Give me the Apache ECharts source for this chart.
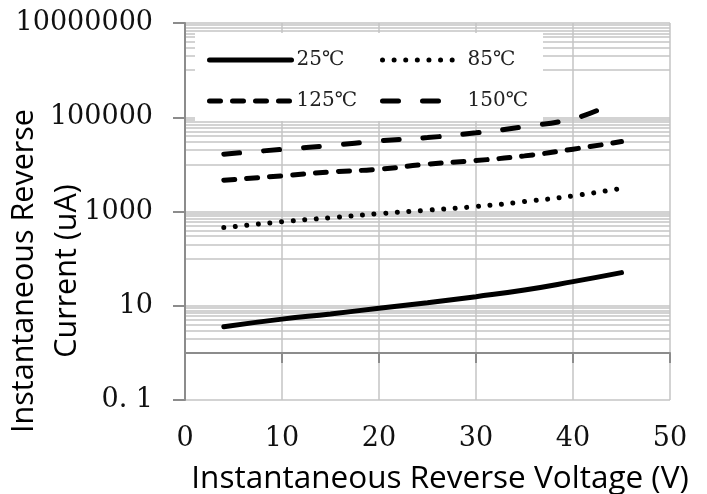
<!DOCTYPE html>
<html>
<head>
<meta charset="utf-8">
<script src="https://cdn.jsdelivr.net/npm/echarts@6/dist/echarts.min.js"></script>
<style>
html,body{margin:0;padding:0;background:#fff;}
#chart{width:707px;height:494px;}
</style>
</head>
<body>
<div id="chart"></div>
<script>
// ---- data ----
const voltage = [4, 10, 15, 20, 25, 30, 35, 40, 45];
const current25 = [3.6, 5.2, 6.7, 8.85, 11.6, 15.6, 21.6, 32.5, 50.5];
const current85 = [455, 605, 738, 900, 1066, 1273, 1622, 2143, 3100];
const current125 = [4620, 5700, 6900, 7910, 10100, 12050, 15150, 21000, 30500];
const voltage150 = [4, 10, 15, 20, 25, 30, 35, 40, 43];
const current150 = [16480, 20800, 25100, 31550, 37000, 46700, 63300, 93000, 155000];

const seriesNames = ['25℃', '85℃', '125℃', '150℃'];
const yTickValues = [0.1, 10, 1000, 100000, 10000000];
const yTickLabels = ['0. 1', '10', '1000', '100000', '10000000'];
const decadeLines = [0.1, 1, 10, 100, 1000, 10000, 100000, 1000000, 10000000];
const minorDecades = [1, 100, 10000, 1000000];
const minorSteps = [2, 3, 4, 5, 6, 7, 8, 9];

const yMin = 0.1, yMax = 10000000;
const gridLines = decadeLines.slice();
minorDecades.forEach(d => minorSteps.forEach(k => gridLines.push(d * k)));

const chart = echarts.init(document.getElementById('chart'), null, {renderer: 'canvas'});

const gridTop = 23, gridBottom = 94, gridLeft = 185, gridRight = 37;
const plotH = 494 - gridTop - gridBottom;
const decadeCount = Math.log10(yMax) - Math.log10(yMin);
const crossOffset = -plotH * (Math.log10(1) - Math.log10(yMin)) / decadeCount;

const gridColor = '#c4c4c4';
const axisColor = '#8c8c8c';
const serifFont = 'DejaVu Serif';
const sansFont = 'Open Sans';

function pairs(xs, ys) { return xs.map((x, i) => [x, ys[i]]); }
function labelFor(v) {
  for (let i = 0; i < yTickValues.length; i++) {
    if (Math.abs(Math.log10(v) - Math.log10(yTickValues[i])) < 1e-6) return yTickLabels[i];
  }
  return '';
}

const lineBase = {type: 'line', showSymbol: false, symbol: 'none', smooth: true, clip: false, z: 3};

const option = {
  animation: false,
  backgroundColor: '#fff',
  grid: {left: gridLeft, right: gridRight, top: gridTop, bottom: gridBottom, containLabel: false, outerBoundsMode: 'none'},
  graphic: [
    {type: 'rect', z: 1, shape: {x: 195, y: 33, width: 348, height: 88}, style: {fill: '#fff'}},
    {type: 'text', z: 5, x: 46, y: 271, rotation: Math.PI / 2,
     style: {text: 'Instantaneous Reverse\nCurrent (uA)', font: '30.5px ' + sansFont, fill: '#000',
             align: 'center', verticalAlign: 'middle', lineHeight: 43}}
  ],
  legend: [
    {data: [seriesNames[0], seriesNames[2]], orient: 'vertical', left: 207, top: 50, padding: 0,
     itemWidth: 82, itemHeight: 14, itemGap: 21,
     itemStyle: {opacity: 0}, lineStyle: {width: 5},
     textStyle: {fontFamily: serifFont, fontSize: 20, color: '#222', padding: [19, 0, 0, 0]}},
    {data: [seriesNames[1], seriesNames[3]], orient: 'vertical', left: 380, top: 50, padding: 0,
     itemWidth: 80, itemHeight: 14, itemGap: 21,
     itemStyle: {opacity: 0}, lineStyle: {width: 5},
     textStyle: {fontFamily: serifFont, fontSize: 20, color: '#222', padding: [19, 0, 0, 0]}}
  ],
  xAxis: [
    {type: 'value', min: 0, max: 50, interval: 10, position: 'bottom',
     axisLine: {show: false}, axisTick: {show: false},
     axisLabel: {fontFamily: serifFont, fontSize: 27, color: '#111', margin: 25},
     splitLine: {show: true, lineStyle: {color: gridColor, width: 1.5}},
     name: 'Instantaneous Reverse Voltage (V)', nameLocation: 'middle', nameGap: 63,
     nameTextStyle: {fontFamily: sansFont, fontSize: 31.5, color: '#000', padding: [0, 0, 0, 25]}},
    {type: 'value', min: 0, max: 50, interval: 10, position: 'bottom', offset: crossOffset,
     axisLine: {show: true, onZero: false, lineStyle: {color: axisColor, width: 2}},
     axisTick: {show: true, inside: false, length: 10, lineStyle: {color: axisColor, width: 2}},
     axisLabel: {show: false}, splitLine: {show: false}}
  ],
  yAxis: [
    {type: 'log', logBase: 10, min: yMin, max: yMax, position: 'left',
     axisLine: {show: true, lineStyle: {color: axisColor, width: 2}},
     axisTick: {show: true, length: 12, customValues: yTickValues, lineStyle: {color: axisColor, width: 2}},
     axisLabel: {customValues: yTickValues, formatter: labelFor, fontFamily: serifFont, fontSize: 27, color: '#111', margin: 32},
     splitLine: {show: false}, minorTick: {show: false}},
    {type: 'log', logBase: 10, min: yMin, max: yMax, position: 'left', offset: 0,
     axisLine: {show: false}, axisLabel: {show: false},
     axisTick: {show: false, customValues: gridLines},
     splitLine: {show: true, lineStyle: {color: gridColor, width: 1.5}}}
  ],
  series: [
    Object.assign({}, lineBase, {name: seriesNames[0], data: pairs(voltage, current25),
      lineStyle: {color: '#000', width: 5, type: 'solid', cap: 'round'}, itemStyle: {color: '#000'}}),
    Object.assign({}, lineBase, {name: seriesNames[1], data: pairs(voltage, current85),
      lineStyle: {color: '#000', width: 5, type: [0.01, 11.6], cap: 'round'}, itemStyle: {color: '#000'}}),
    Object.assign({}, lineBase, {name: seriesNames[2], data: pairs(voltage, current125),
      lineStyle: {color: '#000', width: 5, type: [11, 12], cap: 'round'}, itemStyle: {color: '#000'}}),
    Object.assign({}, lineBase, {name: seriesNames[3], data: pairs(voltage150, current150),
      lineStyle: {color: '#000', width: 5, type: [16, 24], cap: 'round'}, itemStyle: {color: '#000'}})
  ]
};
chart.setOption(option);
</script>
</body>
</html>
